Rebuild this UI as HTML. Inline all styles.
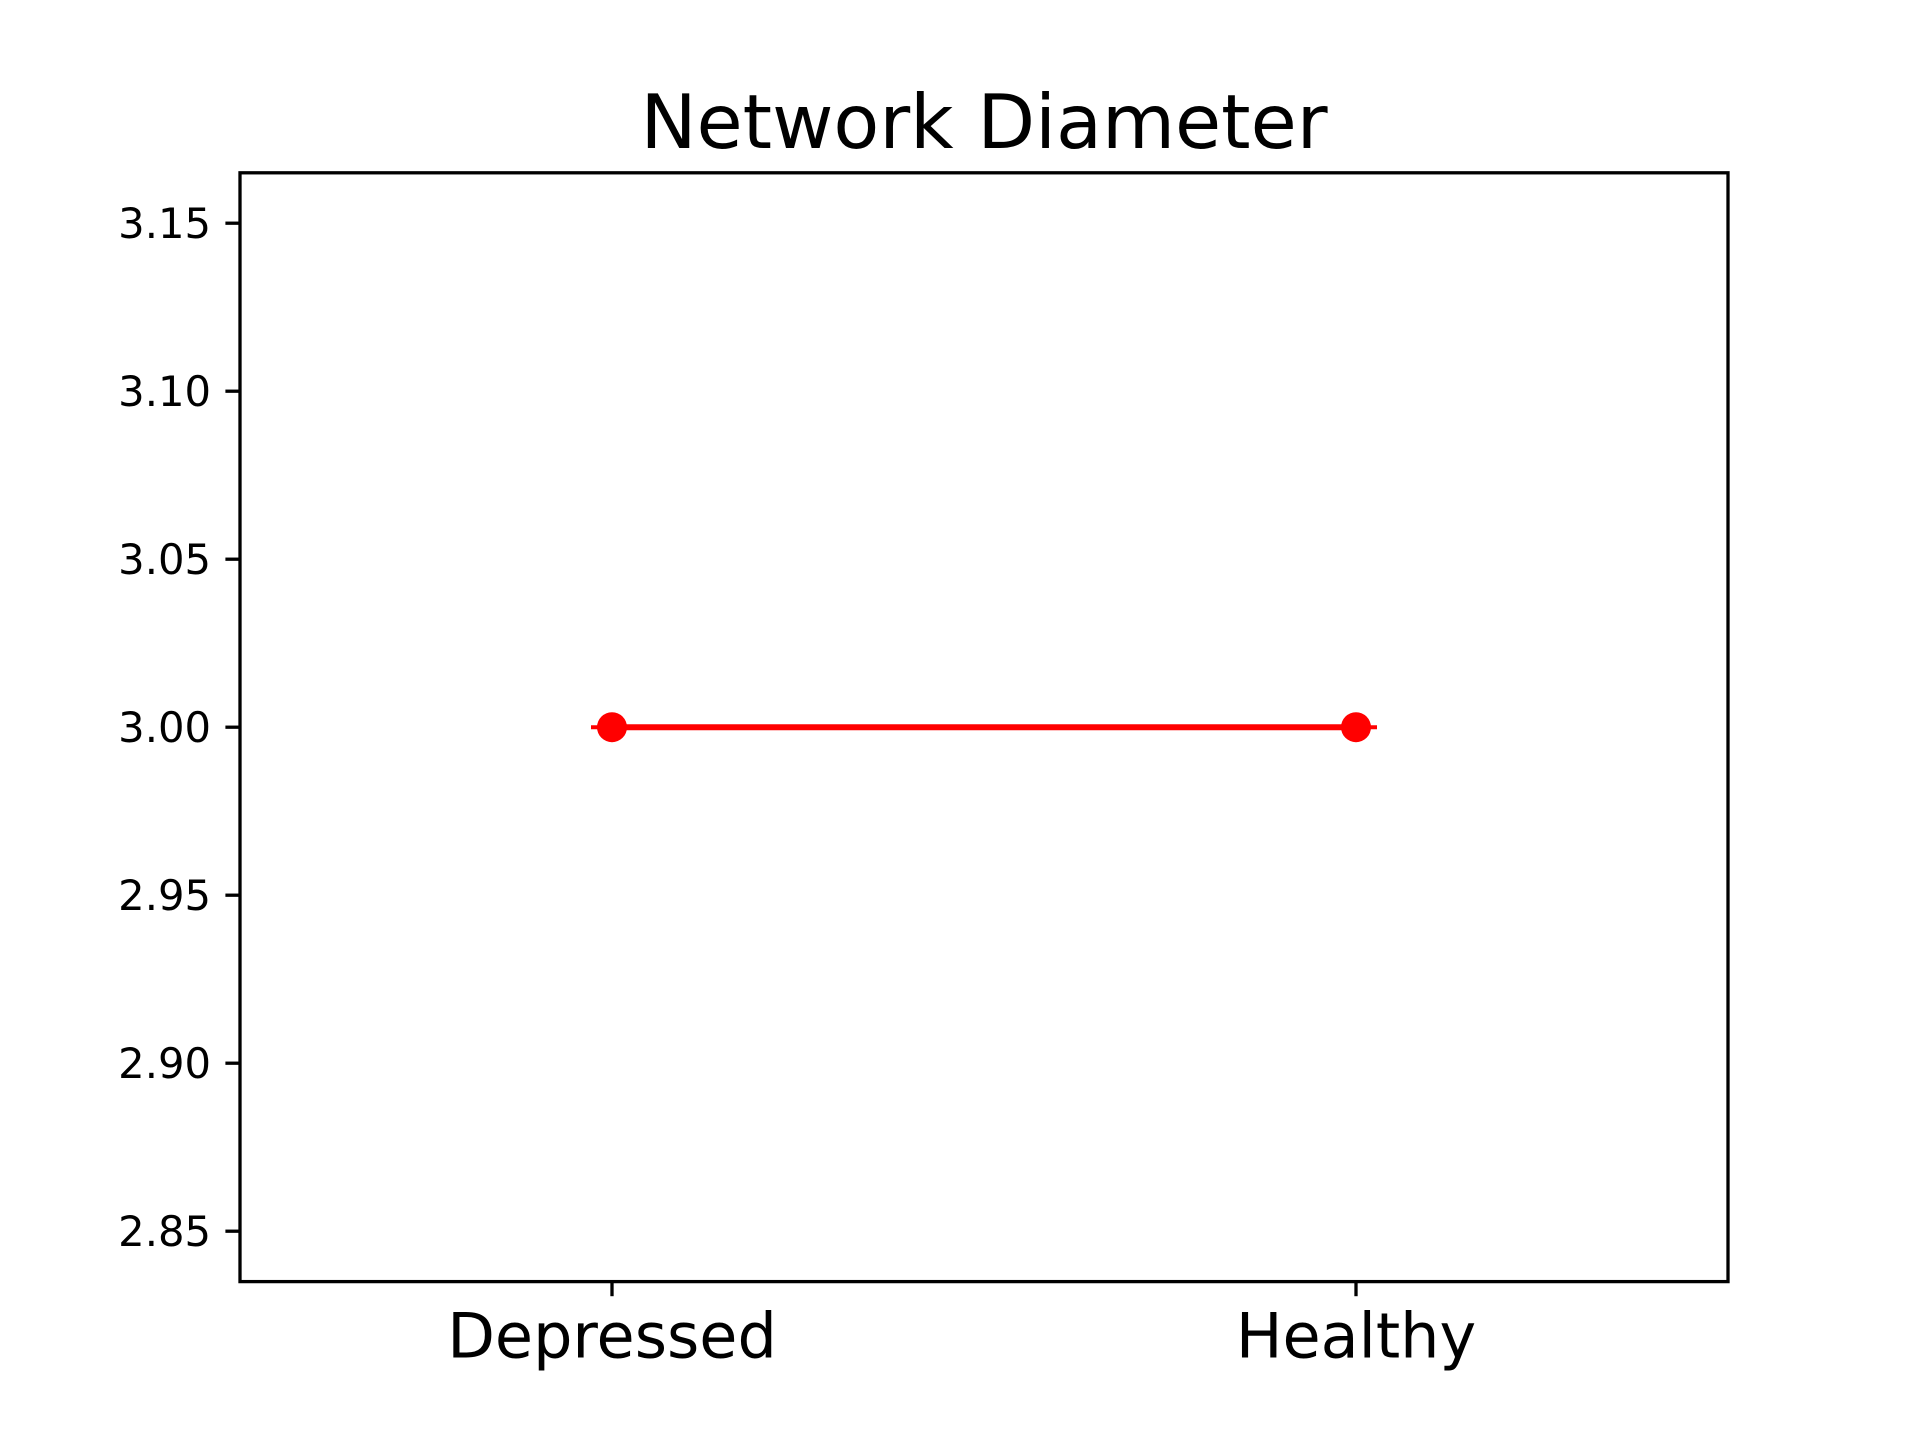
<!DOCTYPE html>
<html><head><meta charset="utf-8"><style>
html,body{margin:0;padding:0;background:#fff}
svg{display:block}
text{font-family:"DejaVu Sans","Liberation Sans",sans-serif;fill:#000}
</style></head><body>
<svg id="chart" width="1920" height="1440" viewBox="0 0 1920 1440">
<rect width="1920" height="1440" fill="#fff"/>
<g id="plot"></g>
</svg>
<script>
const categories = ["Depressed", "Healthy"];
const values = [3.0, 3.0];
const errors = [0, 0];
const yTicks = [2.85, 2.90, 2.95, 3.00, 3.05, 3.10, 3.15];
const yTickLabels = ["2.85", "2.90", "2.95", "3.00", "3.05", "3.10", "3.15"];

const L = 240, R = 1728, T = 172.8, B = 1281.6;
const yMin = 2.835, yMax = 3.165, xMin = -0.5, xMax = 1.5;
const xs = i => L + (i - xMin) / (xMax - xMin) * (R - L);
const ys = v => B - (v - yMin) / (yMax - yMin) * (B - T);
const NS = "http://www.w3.org/2000/svg";
const g = document.getElementById("plot");
function mk(tag, attrs, parent) {
  const e = document.createElementNS(NS, tag);
  for (const k in attrs) e.setAttribute(k, attrs[k]);
  (parent || g).appendChild(e);
  return e;
}

const title = mk("text", {x: (L + R) / 2, y: 148, "text-anchor": "middle", "font-size": 75});
title.textContent = "Network Diameter";



yTicks.forEach((v, i) => {
  const y = ys(v);
  const t = mk("line", {x1: L - 14.6, x2: L, y1: y, y2: y, stroke: "#000", "stroke-width": 3.3});
  
  
  const lb = mk("text", {x: L - 29, y: y + 15, "text-anchor": "end", "font-size": 41.7});
  lb.textContent = yTickLabels[i];
  
  
});

categories.forEach((c, i) => {
  const x = xs(i);
  const t = mk("line", {x1: x, x2: x, y1: B, y2: B + 14.6, stroke: "#000", "stroke-width": 3.3});
  
  
  const lb = mk("text", {x: x, y: B + 76, "text-anchor": "middle", "font-size": 62});
  lb.textContent = c;
  
  
});

categories.forEach((c, i) => {
  const x = xs(i);
  const cap = mk("line", {x1: x - 21, x2: x + 21, y1: ys(values[i] + errors[i]), y2: ys(values[i] + errors[i]), stroke: "#ff0000", "stroke-width": 4});
  
  
});

const pts = values.map((v, i) => xs(i) + "," + ys(v)).join(" ");
const line = mk("polyline", {points: pts, fill: "none", stroke: "#ff0000", "stroke-width": 6});



values.forEach((v, i) => {
  const m = mk("circle", {cx: xs(i), cy: ys(v), r: 15, fill: "#ff0000"});
  
  
});

const frame = mk("rect", {x: L, y: T, width: R - L, height: B - T, fill: "none", stroke: "#000", "stroke-width": 3.3});


</script>
</body></html>
